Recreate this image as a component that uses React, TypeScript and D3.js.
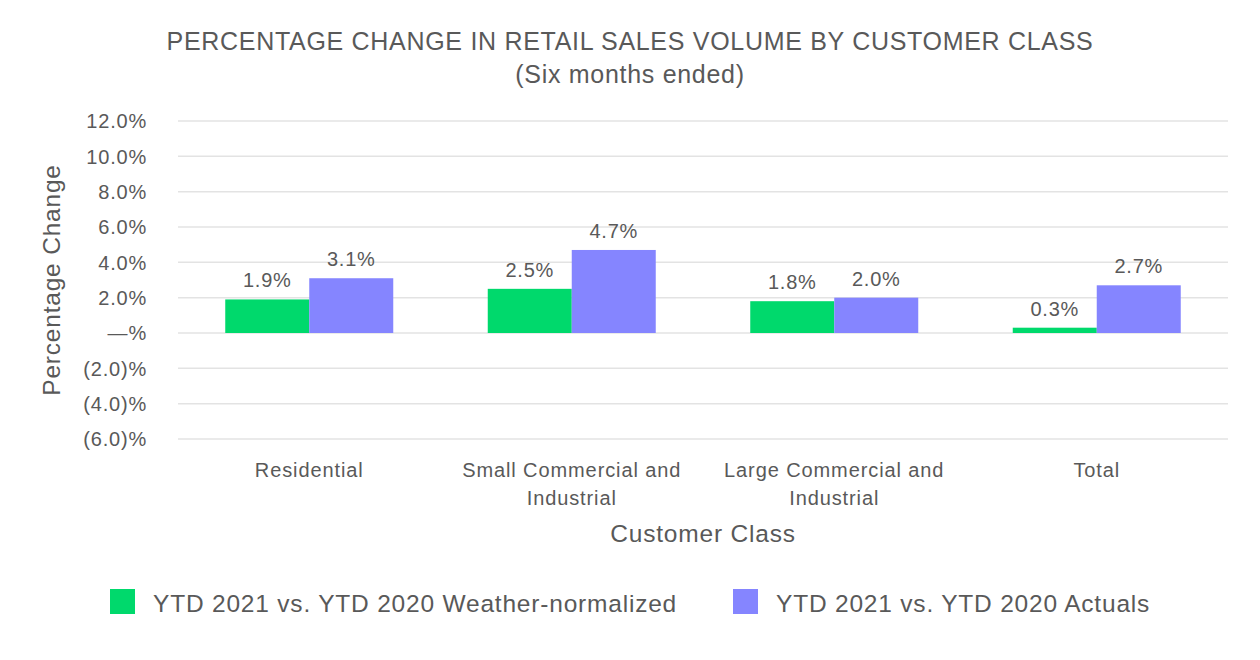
import React from "react";
import * as d3 from "d3";

const categories: string[][] = [
  ["Residential"],
  ["Small Commercial and", "Industrial"],
  ["Large Commercial and", "Industrial"],
  ["Total"],
];
const weatherNormalized = [1.9, 2.5, 1.8, 0.3];
const actuals = [3.1, 4.7, 2.0, 2.7];
const seriesNames = ["YTD 2021 vs. YTD 2020 Weather-normalized", "YTD 2021 vs. YTD 2020 Actuals"];
const seriesColors = ["#00D96C", "#8585FF"];
const yTicks = [12, 10, 8, 6, 4, 2, 0, -2, -4, -6];

const fmtTick = (v: number) => (v === 0 ? "—%" : v < 0 ? `(${Math.abs(v).toFixed(1)})%` : `${v.toFixed(1)}%`);

export default function App() {
  const W = 1260, H = 660;
  const left = 178, right = 1228, top = 121, bottom = 439;
  const y = d3.scaleLinear().domain([-6, 12]).range([bottom, top]);
  const x = d3.scaleBand<number>().domain(d3.range(categories.length)).range([left, right]).paddingInner(0.36).paddingOuter(0.18);
  const xs = d3.scaleBand<number>().domain([0, 1]).range([0, x.bandwidth()]);
  const series = [weatherNormalized, actuals];
  const font = "'Liberation Sans', Arial, sans-serif";
  const textColor = "#595959";
  return (
    <svg width={W} height={H} style={{ position: "absolute", left: 0, top: 0 }} fontFamily={font}>
      <rect width={W} height={H} fill="#fff" />
      <text x={630} y={50} textAnchor="middle" fontSize={25} letterSpacing={0.7} fill={textColor}>PERCENTAGE CHANGE IN RETAIL SALES VOLUME BY CUSTOMER CLASS</text>
      <text x={630} y={83} textAnchor="middle" fontSize={25} letterSpacing={0.7} fill={textColor}>(Six months ended)</text>
      {yTicks.map((t) => (
        <g key={t}>
          <line x1={left} x2={right} y1={y(t)} y2={y(t)} stroke="#e3e3e3" strokeWidth={1.5} />
          <text x={147} y={y(t)} dy="0.36em" textAnchor="end" fontSize={20} letterSpacing={0.8} fill={textColor}>{fmtTick(t)}</text>
        </g>
      ))}
      <text transform={`translate(60,${(top + bottom) / 2}) rotate(-90)`} textAnchor="middle" fontSize={24.5} letterSpacing={0.8} fill={textColor}>Percentage Change</text>
      {series.map((vals, si) =>
        vals.map((v, i) => {
          const bx = (x(i) as number) + (xs(si) as number);
          const y0 = y(Math.max(0, v));
          const y1 = y(Math.min(0, v));
          return (
            <g key={`${si}-${i}`}>
              <rect x={bx} y={y0} width={xs.bandwidth()} height={y1 - y0} fill={seriesColors[si]} />
              <text x={bx + xs.bandwidth() / 2} y={y0 - 12} textAnchor="middle" fontSize={20} letterSpacing={0.7} fill={textColor}>{v.toFixed(1)}%</text>
            </g>
          );
        })
      )}
      {categories.map((lines, i) => (
        <text key={i} x={(x(i) as number) + x.bandwidth() / 2} y={477} textAnchor="middle" fontSize={20} letterSpacing={0.9} fill={textColor}>
          {lines.map((l, j) => (
            <tspan key={j} x={(x(i) as number) + x.bandwidth() / 2} dy={j === 0 ? 0 : 28}>{l}</tspan>
          ))}
        </text>
      ))}
      <text x={(left + right) / 2} y={542} textAnchor="middle" fontSize={24.5} letterSpacing={0.8} fill={textColor}>Customer Class</text>
      {seriesNames.map((n, i) => {
        const lx = i === 0 ? 110 : 733;
        return (
          <g key={n}>
            <rect x={lx} y={589} width={25} height={25} fill={seriesColors[i]} />
            <text x={lx + 43} y={612} fontSize={24.5} letterSpacing={0.8} fill={textColor}>{n}</text>
          </g>
        );
      })}
    </svg>
  );
}
